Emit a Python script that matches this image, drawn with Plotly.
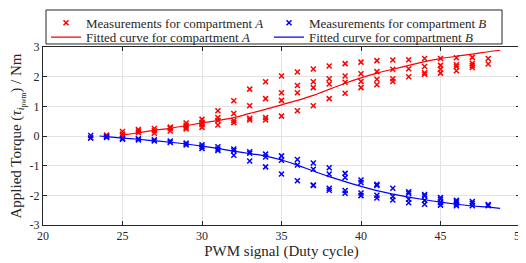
import plotly.graph_objects as go

# Measurements, compartment A
meas_a_x = [23, 24, 24, 25, 25, 25, 26, 26, 26, 27, 27, 27, 28, 28, 28,
            29, 29, 29, 29, 30, 30, 30, 30, 31, 31, 31, 31, 32, 32, 32, 32,
            33, 33, 33, 33, 34, 34, 34, 34, 35, 35, 35, 35, 36, 36, 36, 36,
            37, 37, 37, 37, 38, 38, 38, 38, 39, 39, 39, 39, 40, 40, 40, 40,
            41, 41, 41, 41, 42, 42, 42, 42, 43, 43, 43, 44, 44, 44, 44,
            45, 45, 45, 45, 46, 46, 46, 46, 47, 47, 47, 47, 48, 48]
meas_a_y = [-0.07, 0.03, 0.0, 0.15, 0.07, 0.01, 0.22, 0.17, 0.11, 0.25, 0.18, 0.09,
            0.30, 0.25, 0.17, 0.44, 0.36, 0.30, 0.24, 0.56, 0.46, 0.38, 0.29,
            0.85, 0.62, 0.52, 0.37, 1.19, 0.76, 0.52, 0.45, 1.58, 1.02, 0.60, 0.54,
            1.83, 1.26, 0.62, 0.54, 2.02, 1.46, 1.20, 0.67, 2.16, 1.70, 1.46, 0.85,
            2.26, 1.83, 1.63, 1.02, 2.36, 1.93, 1.75, 1.26, 2.44, 2.02, 1.81, 1.44,
            2.49, 2.10, 1.84, 1.63, 2.54, 2.17, 1.91, 1.73, 2.56, 2.25, 1.93, 1.84,
            2.57, 2.27, 2.00, 2.61, 2.34, 2.13, 2.08, 2.61, 2.38, 2.25, 2.12,
            2.64, 2.40, 2.34, 2.20, 2.65, 2.45, 2.38, 2.31, 2.61, 2.43]

# Measurements, compartment B
meas_b_x = [23, 23, 24, 24, 25, 25, 26, 26, 27, 27, 28, 28, 29, 29, 30, 30, 30,
            31, 31, 31, 32, 32, 32, 33, 33, 33, 34, 34, 34, 35, 35, 35,
            36, 36, 36, 37, 37, 37, 37, 38, 38, 38, 38, 39, 39, 39, 39,
            40, 40, 40, 40, 41, 41, 41, 41, 42, 42, 42, 43, 43, 43, 43,
            44, 44, 44, 44, 45, 45, 45, 45, 46, 46, 46, 46, 47, 47, 47, 48, 48]
meas_b_y = [0.02, -0.07, -0.02, -0.05, -0.08, -0.11, -0.09, -0.13, -0.13, -0.17,
            -0.17, -0.22, -0.24, -0.30, -0.30, -0.36, -0.42, -0.36, -0.44, -0.49,
            -0.44, -0.50, -0.65, -0.53, -0.58, -0.84, -0.61, -0.71, -1.04,
            -0.67, -0.82, -1.28, -0.79, -0.98, -1.51, -0.91, -1.12, -1.65, -1.67,
            -1.07, -1.28, -1.76, -1.83, -1.26, -1.40, -1.84, -1.93,
            -1.48, -1.57, -1.92, -2.01, -1.63, -1.67, -2.00, -2.09,
            -1.76, -2.04, -2.16, -1.88, -1.93, -2.13, -2.25,
            -1.97, -2.02, -2.17, -2.30, -2.07, -2.13, -2.24, -2.33,
            -2.17, -2.22, -2.29, -2.35, -2.21, -2.27, -2.35, -2.31, -2.35]

# Fitted curves
fit_a_x = [25, 26, 27, 28, 29, 30, 31, 32, 33, 34, 35, 36, 37, 38, 39, 40,
           41, 42, 43, 44, 45, 46, 47, 48, 48.75]
fit_a_y = [0.03, 0.11, 0.19, 0.26, 0.35, 0.44, 0.52, 0.62, 0.76, 0.90, 1.05, 1.20,
           1.37, 1.57, 1.78, 1.96, 2.12, 2.25, 2.38, 2.51, 2.61, 2.69, 2.76, 2.84, 2.89]
fit_b_x = [23.55, 24, 25, 26, 27, 28, 29, 30, 31, 32, 33, 34, 35, 36, 37, 38, 39,
           40, 41, 42, 43, 44, 45, 46, 47, 48, 48.75]
fit_b_y = [0.0, -0.02, -0.07, -0.11, -0.16, -0.21, -0.27, -0.34, -0.42, -0.51, -0.59,
           -0.68, -0.81, -0.98, -1.18, -1.37, -1.54, -1.70, -1.84, -1.96, -2.06,
           -2.15, -2.23, -2.30, -2.36, -2.40, -2.44]

x_ticks = [20, 25, 30, 35, 40, 45, 50]
y_ticks = [-3, -2, -1, 0, 1, 2, 3]

RED = "#ff0000"
BLUE = "#0000ff"
FONT = "Liberation Serif"
INK = "#262626"

fig = go.Figure()
fig.add_trace(go.Scatter(x=meas_a_x, y=meas_a_y, mode="markers", legend="legend",
                         name="Measurements for compartment <i>A</i>",
                         marker=dict(symbol="x-thin", size=5, color=RED,
                                     line=dict(color=RED, width=1.5))))
fig.add_trace(go.Scatter(x=meas_b_x, y=meas_b_y, mode="markers", legend="legend",
                         name="Measurements for compartment <i>B</i>",
                         marker=dict(symbol="x-thin", size=5, color=BLUE,
                                     line=dict(color=BLUE, width=1.5))))
fig.add_trace(go.Scatter(x=fit_a_x, y=fit_a_y, mode="lines", line_shape="spline",
                         legend="legend2",
                         name="Fitted curve for compartment <i>A</i>",
                         line=dict(color=RED, width=1.2)))
fig.add_trace(go.Scatter(x=fit_b_x, y=fit_b_y, mode="lines", line_shape="spline",
                         legend="legend2",
                         name="Fitted curve for compartment <i>B</i>",
                         line=dict(color=BLUE, width=1.2)))

axis_common = dict(showline=True, linecolor=INK, linewidth=1, mirror="ticks",
                   ticks="inside", ticklen=4, tickcolor=INK,
                   showgrid=True, gridcolor="#e3e3e3", gridwidth=1,
                   zeroline=False, automargin=False,
                   tickfont=dict(family=FONT, size=12, color=INK))

fig.update_xaxes(range=[20, 50], tickvals=x_ticks, ticktext=[str(v) for v in x_ticks],
                 title=dict(text="PWM signal (Duty cycle)", standoff=3,
                            font=dict(family=FONT, size=15, color=INK)),
                 **axis_common)
fig.update_yaxes(range=[-3, 3], tickvals=y_ticks, ticktext=[str(v) for v in y_ticks],
                 title=dict(text="Applied Torque (<i>τ</i><sub><i>i</i><sub>pwm</sub></sub>) / Nm",
                            standoff=4, font=dict(family=FONT, size=15, color=INK)),
                 **axis_common)

legend_common = dict(orientation="h", xanchor="left", yanchor="top",
                     borderwidth=0, bgcolor="rgba(0,0,0,0)",
                     entrywidth=178, entrywidthmode="pixels", itemwidth=30,
                     font=dict(family=FONT, size=13, color=INK))

# the page body adds an 8px offset, so the figure is sized to fit inside the window
fig.update_layout(
    width=518, height=255,
    margin=dict(l=35, r=6, t=39, b=38, autoexpand=False),
    plot_bgcolor="white", paper_bgcolor="white",
    font=dict(family=FONT, color=INK),
    legend=dict(x=0.0063, y=1.220, **legend_common),
    legend2=dict(x=0.0063, y=1.139, **legend_common),
    shapes=[dict(type="rect", xref="paper", yref="paper",
                 x0=0.0063, x1=0.9623, y0=1.0169, y1=1.2079,
                 line=dict(color=INK, width=1), fillcolor="rgba(0,0,0,0)",
                 layer="below")],
)

fig.write_html("out.html")
